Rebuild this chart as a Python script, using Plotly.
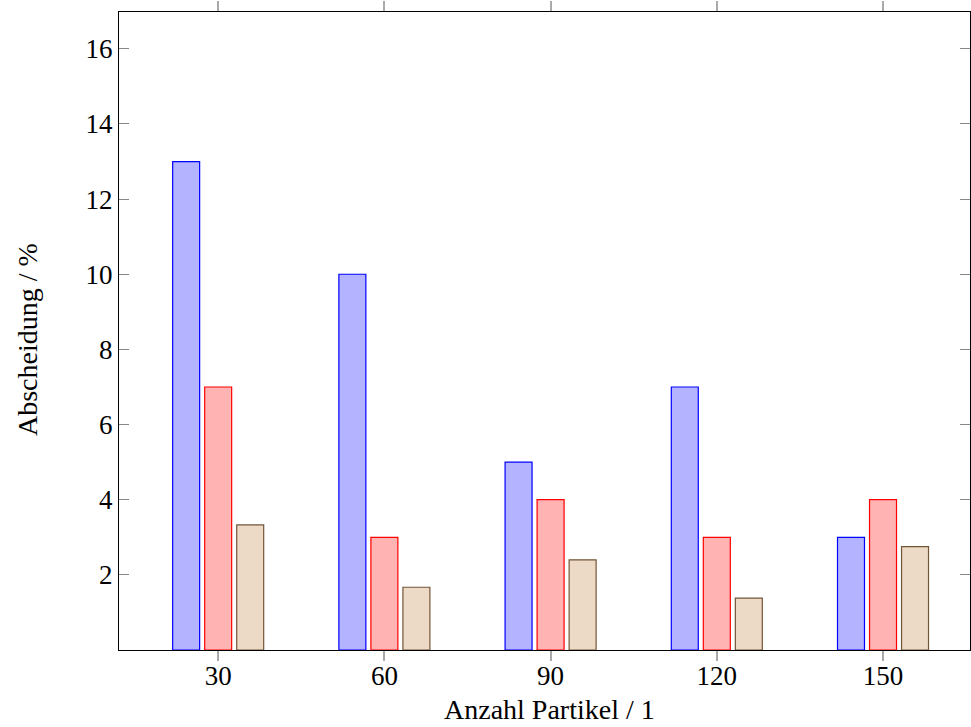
import plotly.graph_objects as go

categories = [30, 60, 90, 120, 150]
series_a = [13, 10, 5, 7, 3]
series_b = [7, 3, 4, 3, 4]
series_c = [3.33, 1.67, 2.4, 1.38, 2.75]
y_ticks = [2, 4, 6, 8, 10, 12, 14, 16]
x_title = "Anzahl Partikel / 1"
y_title = "Abscheidung / %"

bar_w = 4.87
step = 5.78

fig = go.Figure()
specs = [
    (series_a, "rgb(179,179,255)", "rgb(0,0,255)", -step),
    (series_b, "rgb(255,179,179)", "rgb(255,0,0)", 0),
    (series_c, "rgb(236,217,198)", "rgb(115,85,55)", step),
]
for vals, fill, line, shift in specs:
    fig.add_trace(go.Bar(
        x=categories, y=vals, width=bar_w, offset=shift - bar_w / 2,
        marker=dict(color=fill, line=dict(color=line, width=1.2)),
        showlegend=False,
    ))

fam = "Liberation Serif, DejaVu Serif, serif"
tick_font = dict(family=fam, size=27, color="black")
title_font = dict(family=fam, size=28, color="black")
fig.update_layout(
    width=971, height=727,
    margin=dict(l=119, r=1, t=12, b=77),
    plot_bgcolor="white", paper_bgcolor="white",
    font=tick_font,
    barmode="overlay",
    xaxis=dict(
        range=[12.1, 165.7], tickvals=categories, ticks="outside", ticklen=10,
        tickcolor="#aaaaaa", tickwidth=1.5, showline=True, linecolor="black", linewidth=1.2,
        mirror="ticks", showgrid=False, zeroline=False,
        tickfont=tick_font, ticklabelstandoff=-9,
    ),
    yaxis=dict(
        range=[0, 16.98], tickvals=y_ticks, ticks="inside", ticklen=10,
        tickcolor="#888888", tickwidth=1.2, showline=True, linecolor="black", linewidth=1.2,
        mirror="ticks", showgrid=False, zeroline=False,
        tickfont=tick_font,
    ),
    annotations=[
        dict(text=x_title, xref="paper", yref="paper", x=0.5, y=0,
             xanchor="center", yanchor="middle", yshift=-59, xshift=5,
             showarrow=False, font=title_font),
        dict(text=y_title, xref="paper", yref="paper", x=0, y=0.5,
             xanchor="center", yanchor="middle", xshift=-92, yshift=-9,
             textangle=-90, showarrow=False, font=title_font),
    ],
)
fig.write_html("out.html")
